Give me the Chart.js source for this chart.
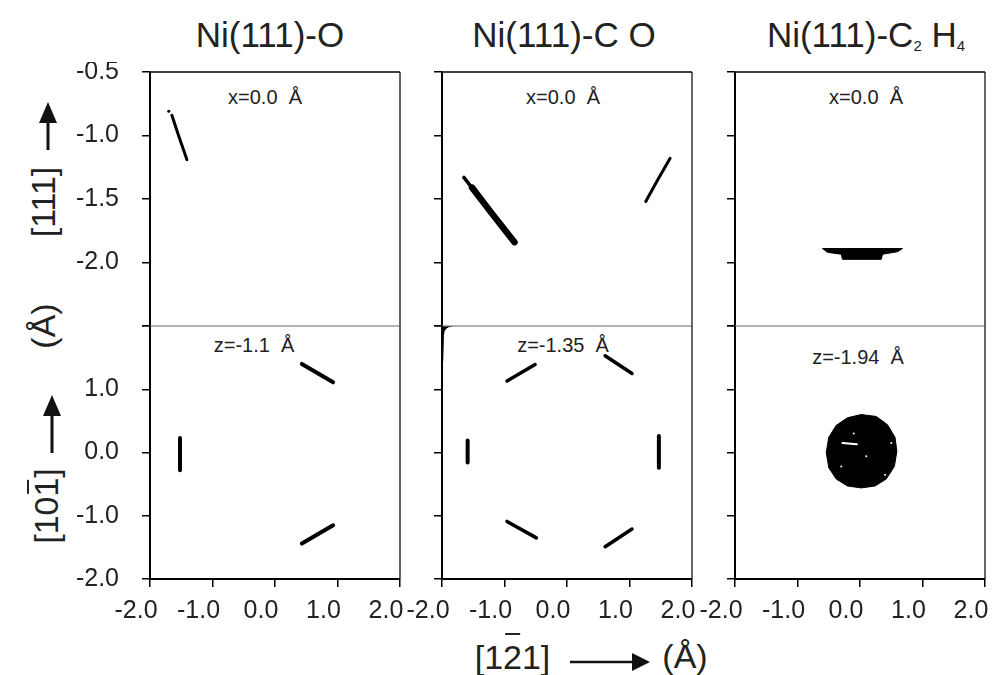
<!DOCTYPE html>
<html>
<head>
<meta charset="utf-8">
<title>Ni(111) adsorbate trajectories</title>
<script src="https://cdn.jsdelivr.net/npm/chart.js@4.4.1/dist/chart.umd.min.js"></script>
<style>
  body { margin: 0; background: #fff; }
  #fig { position: relative; width: 997px; height: 675px; overflow: hidden; font-family: "Liberation Sans", Arial, sans-serif; color: #222; }
  #fig canvas { position: absolute; }
  .t { position: absolute; white-space: nowrap; line-height: 1; }
  .c { transform: translateX(-50%); }
  .rot { transform: translate(-50%, -50%) rotate(-90deg); }
  .title { font-size: 35px; }
  .title sub { font-size: 15px; line-height: 0; vertical-align: -4px; }
  .note { font-size: 20px; }
  .axis { font-size: 34px; }
  .ob { position: relative; display: inline-block; }
  .ob::after { content: ""; position: absolute; left: 12%; right: 12%; top: -0.2em; border-top: 2px solid #222; }
  .ob.tight::after { top: -0.06em; }
  #arrows { position: absolute; left: 0; top: 0; }
</style>
</head>
<body>
<div id="fig">
  <div class="t c title" style="left:270px;top:17px">Ni(111)-O</div>
  <div class="t c title" style="left:564px;top:17px">Ni(111)-C O</div>
  <div class="t c title" style="left:866px;top:17px">Ni(111)-C<sub>2</sub> H<sub>4</sub></div>

  <div class="t c note" style="left:265px;top:87px">x=0.0 &nbsp;Å</div>
  <div class="t c note" style="left:563px;top:87px">x=0.0 &nbsp;Å</div>
  <div class="t c note" style="left:866px;top:87px">x=0.0 &nbsp;Å</div>
  <div class="t c note" style="left:254px;top:335px">z=-1.1 &nbsp;Å</div>
  <div class="t c note" style="left:563px;top:335px">z=-1.35 &nbsp;Å</div>
  <div class="t c note" style="left:858px;top:347px">z=-1.94 &nbsp;Å</div>

  <div class="t rot axis" style="left:42.5px;top:201.5px">[111]</div>
  <div class="t rot axis" style="left:42.5px;top:325.5px">(Å)</div>
  <div class="t rot axis" style="left:45.5px;top:506px">[10<span class="ob tight">1</span>]</div>
  <div class="t c axis" style="left:512.5px;top:640px">[1<span class="ob">2</span>1]</div>
  <div class="t c axis" style="left:685px;top:639px">(Å)</div>

  <svg id="arrows" width="997" height="675">
    <g fill="#111" stroke="#111">
      <line x1="48" y1="150" x2="48" y2="118" stroke-width="3"/>
      <polygon points="48,102 39,123 57,123" stroke="none"/>
      <line x1="52" y1="453" x2="52" y2="410" stroke-width="3"/>
      <polygon points="52,395 43,416 61,416" stroke="none"/>
      <line x1="570" y1="662" x2="636" y2="662" stroke-width="2.7"/>
      <polygon points="650,662 632,653 632,671" stroke="none"/>
    </g>
  </svg>
</div>

<script>
  // Axis ticks (Å)
  const xTicks = [-2, -1, 0, 1, 2];
  const xLabels = ["-2.0", "-1.0", "0.0", "1.0", "2.0"];
  const yTicksTop = [-2.5, -2.0, -1.5, -1.0, -0.5];
  const yLabelsTop = ["", "-2.0", "-1.5", "-1.0", "-0.5"];
  const yTicksBottom = [-2, -1, 0, 1, 2];
  const yLabelsBottom = ["-2.0", "-1.0", "0.0", "1.0", ""];

  // x = 0.0 Å cuts: [x, y] in Å
  const oSideStreak = [[-1.65, -0.84], [-1.55, -0.99], [-1.41, -1.19]];
  const oSideDot = [[-1.70, -0.81]];
  const coSideThin = [[-1.65, -1.33], [-1.50, -1.425]];
  const coSideThick = [[-1.52, -1.41], [-1.20, -1.615], [-0.84, -1.84]];
  const coSideRight = [[1.26, -1.52], [1.45, -1.35], [1.65, -1.18]];
  const c2h4SideBand = [[-0.60, -1.89], [0.68, -1.89], [0.60, -1.915], [0.36, -1.935], [0.34, -1.975],
    [-0.28, -1.975], [-0.30, -1.935], [-0.52, -1.92], [-0.60, -1.89]];

  // z cuts: [x, y] in Å
  const oTopBar = [[-1.52, 0.23], [-1.52, -0.28]];
  const oTopUpper = [[0.43, 1.40], [0.93, 1.11]];
  const oTopLower = [[0.43, -1.44], [0.93, -1.15]];
  const coTopLeftBar = [[-1.59, 0.19], [-1.59, -0.16]];
  const coTopRightBar = [[1.47, 0.26], [1.47, -0.24]];
  const coTopUL = [[-0.96, 1.13], [-0.51, 1.39]];
  const coTopUR = [[0.61, 1.53], [1.04, 1.25]];
  const coTopLL = [[-0.96, -1.09], [-0.49, -1.35]];
  const coTopLR = [[0.61, -1.49], [1.04, -1.21]];
  const coTopCorner = [[-2.0, 2.0], [-1.84, 2.0], [-1.90, 1.985], [-1.94, 1.96], [-1.965, 1.92],
    [-1.978, 1.85], [-1.988, 1.45], [-2.0, 1.40], [-2.0, 2.0]];
  const c2h4TopDisc = [[0.02, 0.60], [0.26, 0.57], [0.44, 0.44], [0.56, 0.24], [0.59, 0.02], [0.55, -0.22],
    [0.42, -0.42], [0.24, -0.53], [0.02, -0.56], [-0.20, -0.53], [-0.38, -0.42], [-0.50, -0.24],
    [-0.54, 0.00], [-0.50, 0.24], [-0.38, 0.43], [-0.20, 0.55], [0.02, 0.60]];
  const c2h4TopGap = [[-0.28, 0.15], [-0.05, 0.13]];
  const c2h4TopSpecks = [[-0.10, 0.30], [0.10, -0.06], [-0.30, -0.22], [0.40, -0.35], [0.50, 0.15]];

  const COLS = [150, 442, 735];
  const ROWS = [{ top: 72, h: 254 }, { top: 326, h: 253 }];
  const PW = 250, AXW = 80, PAD = 10, XH = 50;
  const FONT = { family: "Liberation Sans", size: 25 };

  function pts(arr) {
    return arr.map(([x, y]) => ({ x: x, y: y }));
  }
  function streak(arr, width, color) {
    return {
      data: pts(arr), showLine: true, fill: false, pointRadius: 0,
      borderColor: color || "#000", borderWidth: width,
      borderCapStyle: "round", borderJoinStyle: "round",
    };
  }
  function dots(arr, r, color) {
    return { data: pts(arr), showLine: false, pointRadius: r, pointBorderWidth: 0, pointBackgroundColor: color || "#000" };
  }
  function blob(arr) {
    return {
      data: pts(arr), showLine: true, fill: "shape", pointRadius: 0,
      borderColor: "#000", backgroundColor: "#000", borderWidth: 1,
    };
  }

  const framePlugin = {
    id: "frame",
    afterDatasetsDraw(chart, args, o) {
      const a = chart.chartArea;
      const ctx = chart.ctx;
      function edge(x1, y1, x2, y2, color, w) {
        ctx.beginPath();
        ctx.strokeStyle = color;
        ctx.lineWidth = w;
        ctx.moveTo(x1, y1);
        ctx.lineTo(x2, y2);
        ctx.stroke();
      }
      ctx.save();
      edge(a.left, a.top, a.right, a.top, o.top, o.top === "#000" ? 1.5 : 1);
      edge(a.left, a.bottom, a.right, a.bottom, o.bottom, o.bottom === "#000" ? 2 : 1);
      edge(a.right, a.top, a.right, a.bottom, "#000", 1.2);
      edge(a.left, a.top, a.left, a.bottom, "#000", 2);
      ctx.restore();
    },
  };

  function noPad(s) {
    s.paddingTop = 0;
    s.paddingBottom = 0;
    s.paddingLeft = 0;
    s.paddingRight = 0;
  }

  function mountPanel(col, row, datasets) {
    const r = ROWS[row];
    const isBottom = row === 1;
    const canvas = document.createElement("canvas");
    canvas.width = AXW + PW + PAD;
    canvas.height = PAD + r.h + (isBottom ? XH : PAD);
    canvas.style.left = COLS[col] - AXW + "px";
    canvas.style.top = r.top - PAD + "px";
    document.getElementById("fig").appendChild(canvas);

    const yTicks = isBottom ? yTicksBottom : yTicksTop;
    const yLabels = isBottom ? yLabelsBottom : yLabelsTop;
    const grid = { drawOnChartArea: false, drawTicks: true, tickLength: 8, color: "#000", lineWidth: 1.5 };

    return new Chart(canvas, {
      type: "scatter",
      data: { datasets: datasets },
      options: {
        responsive: false,
        animation: false,
        events: [],
        layout: { padding: { top: PAD, right: PAD, left: 0, bottom: isBottom ? 0 : PAD } },
        plugins: {
          legend: { display: false },
          tooltip: { enabled: false },
          frame: { top: isBottom ? "#999" : "#000", bottom: isBottom ? "#000" : "#999" },
        },
        scales: {
          x: {
            type: "linear", min: -2, max: 2, display: isBottom,
            afterBuildTicks: (s) => { s.ticks = xTicks.map((v) => ({ value: v })); },
            afterFit: (s) => { noPad(s); if (isBottom) s.height = XH; },
            grid: grid,
            border: { display: false },
            ticks: { font: FONT, color: "#222", padding: 9, labelOffset: -14, maxRotation: 0,
              callback: (v, i) => xLabels[i] },
          },
          y: {
            type: "linear", min: yTicks[0], max: yTicks[yTicks.length - 1],
            afterBuildTicks: (s) => { s.ticks = yTicks.map((v) => ({ value: v })); },
            afterFit: (s) => { noPad(s); s.width = AXW; },
            grid: grid,
            border: { display: false },
            ticks: { display: col === 0, font: FONT, color: "#222", padding: 23,
              callback: (v, i) => yLabels[i] },
          },
        },
      },
      plugins: [framePlugin],
    });
  }

  // Chart.js paints the first dataset on top
  mountPanel(0, 0, [streak(oSideStreak, 3), dots(oSideDot, 1.5)]);
  mountPanel(1, 0, [streak(coSideThin, 3.5), streak(coSideThick, 6.5), streak(coSideRight, 3)]);
  mountPanel(2, 0, [blob(c2h4SideBand)]);
  mountPanel(0, 1, [streak(oTopBar, 4), streak(oTopUpper, 4), streak(oTopLower, 4)]);
  mountPanel(1, 1, [
    streak(coTopLeftBar, 4), streak(coTopRightBar, 4),
    streak(coTopUL, 3.5), streak(coTopUR, 3.5), streak(coTopLL, 3.5), streak(coTopLR, 3.5),
    blob(coTopCorner),
  ]);
  mountPanel(2, 1, [streak(c2h4TopGap, 2, "#fff"), dots(c2h4TopSpecks, 1, "#fff"), blob(c2h4TopDisc)]);
</script>
</body>
</html>
